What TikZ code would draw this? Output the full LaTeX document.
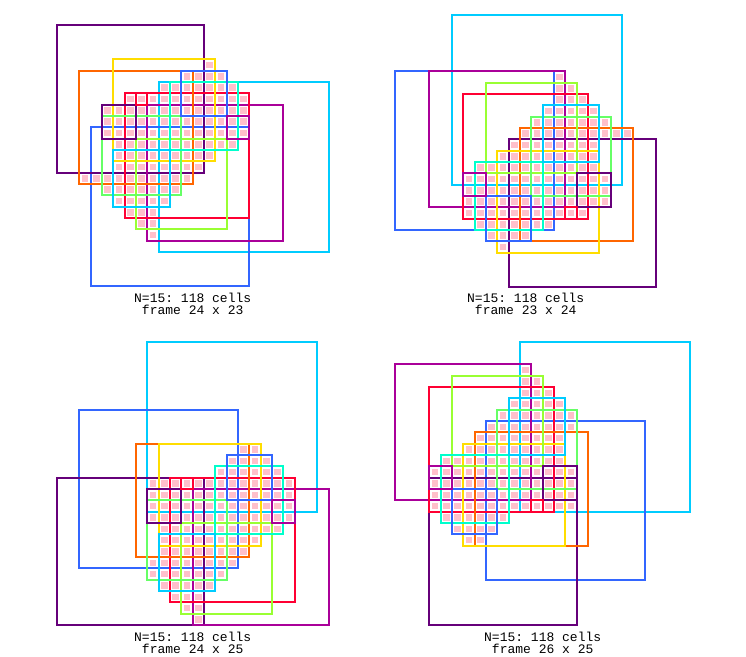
\documentclass[tikz,border=0pt]{standalone}
\usepackage{fontspec}
\setmonofont{Liberation Mono}
\usepackage{tikz}
\usetikzlibrary{positioning}
% colour of a square follows its size (1..10, then again)
\definecolor{hue1} {RGB}{255,0,51}
\definecolor{hue2} {RGB}{170,0,153}
\definecolor{hue3} {RGB}{102,0,122}
\definecolor{hue4} {RGB}{51,102,255}
\definecolor{hue5} {RGB}{0,204,255}
\definecolor{hue6} {RGB}{0,255,204}
\definecolor{hue7} {RGB}{102,255,102}
\definecolor{hue8} {RGB}{153,255,51}
\definecolor{hue9} {RGB}{255,221,0}
\definecolor{hue10}{RGB}{255,102,0}
\definecolor{cellpink}{RGB}{255,192,203}
\tikzset{
  % grid of one panel (one unit = one cell)
  panel/.style={x=11.333pt, y=-11.333pt},
  % outline of a k x k square
  sqline/.style={draw=#1, line width=2.1pt},
  % covered cell
  cellbox/.style={fill=cellpink},
  % text under a panel
  caption/.style={font=\ttfamily\fontsize{13}{12}\selectfont, align=center,
                  inner sep=0pt},
}
% rows of cells: j/first/last
\newcommand{\drawcells}[1]{%
  \foreach \j/\a/\b in {#1}{%
    \foreach \i in {\a,...,\b}{%
      \fill[cellbox] (\i+0.22,\j+0.22) rectangle ++(0.56,0.56);}}}
% squares: size/col/row, largest first
\newcommand{\drawsquares}[1]{%
  \foreach \k/\i/\j in {#1}{%
    \pgfmathtruncatemacro{\hue}{mod(\k-1,10)+1}
    \draw[sqline=hue\hue] (\i,\j) rectangle ++(\k,\k);}}

\begin{document}
\begin{tikzpicture}[x=1pt,y=-1pt]
  \useasboundingbox (0,0) rectangle (746,656);

  % ── Panel 1 (24 x 23) ─────────────────────────────────
  \begin{scope}[shift={(56.67,25.33)}, panel]
    \drawcells{3/13/13, 4/11/14, 5/9/15, 6/6/16, 7/4/16, 8/4/16, 9/4/16,
               10/5/15, 11/5/13, 12/5/12, 13/2/11, 14/4/10, 15/5/9,
               16/6/8, 17/7/8, 18/8/8}
    \drawsquares{15/9/5, 14/3/9, 13/0/0, 12/8/7, 11/6/6, 10/2/4, 9/5/3,
                 8/7/10, 7/4/8, 6/10/5, 5/5/11, 4/11/4, 3/4/7, 2/15/8, 1/7/6}
  \end{scope}
  \node[caption] (cap1) at (192.67,304) {N=15: 118 cells\\frame 24 x 23};

  % ── Panel 2 (23 x 24) ─────────────────────────────────
  \begin{scope}[shift={(395.33,14.67)}, panel]
    \drawcells{5/14/14, 6/14/15, 7/14/16, 8/13/17, 9/12/18, 10/11/20,
               11/10/17, 12/9/17, 13/7/17, 14/6/18, 15/6/18, 16/6/18,
               17/6/16, 18/7/13, 19/8/11, 20/9/9}
    \drawsquares{15/5/0, 14/0/5, 13/10/11, 12/3/5, 11/6/7, 10/11/10, 9/9/12,
                 8/8/6, 7/12/9, 6/7/13, 5/13/8, 4/8/16, 3/16/14, 2/6/14,
                 1/15/17}
  \end{scope}
  \node[caption] (cap2) at (525.67,304) {N=15: 118 cells\\frame 23 x 24};

  % ── Panel 3 (24 x 25) ─────────────────────────────────
  \begin{scope}[shift={(56.67,341.67)}, panel]
    \drawcells{9/16/17, 10/15/18, 11/14/19, 12/8/20, 13/8/20, 14/8/20,
               15/8/20, 16/9/19, 17/9/17, 18/9/16, 19/8/15, 20/8/14,
               21/9/13, 22/10/12, 23/11/12, 24/12/12}
    \drawsquares{15/8/0, 14/2/6, 13/0/12, 12/12/13, 11/10/12, 10/7/9, 9/9/9,
                 8/11/16, 7/8/14, 6/14/11, 5/9/17, 4/15/10, 3/8/13, 2/19/14,
                 1/11/12}
  \end{scope}
  \node[caption] (cap3) at (192.67,643) {N=15: 118 cells\\frame 24 x 25};

  % ── Panel 4 (26 x 25) ─────────────────────────────────
  \begin{scope}[shift={(395.33,341.67)}, panel]
    \drawcells{2/11/11, 3/11/12, 4/11/13, 5/10/14, 6/9/15, 7/8/15, 8/7/14,
               9/6/14, 10/4/14, 11/3/15, 12/3/15, 13/3/15, 14/3/15,
               15/4/9, 16/5/8, 17/6/7}
    \drawsquares{15/11/0, 14/8/7, 13/3/12, 12/0/2, 11/3/4, 10/7/8, 9/6/9,
                 8/5/3, 7/9/6, 6/4/10, 5/10/5, 4/5/13, 3/13/11, 2/3/11,
                 1/12/14}
  \end{scope}
  \node[caption] (cap4) at (542.67,643) {N=15: 118 cells\\frame 26 x 25};

\end{tikzpicture}
\end{document}
